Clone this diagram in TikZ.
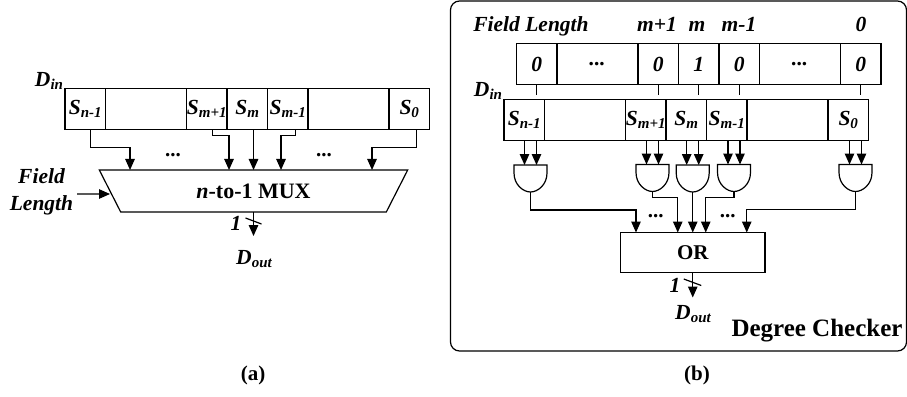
\documentclass[tikz,border=0pt]{standalone}
\usepackage{fontspec}
\setmainfont{Liberation Serif}
\usetikzlibrary{positioning}
\usetikzlibrary{arrows.meta}
\usetikzlibrary{shapes.geometric}
\newcommand{\subtxt}[2]{#1\raisebox{-0.3ex}{\fontsize{15}{15}\selectfont #2}}
\newcommand{\txtsize}[1]{\fontsize{#1}{#1}\selectfont}

\begin{document}
\begin{tikzpicture}[x=1pt, y=-1pt, line width=1.2pt, node distance=0pt,
                    every node/.style={font=\bfseries\txtsize{21}},
                    ital/.style={font=\bfseries\itshape\txtsize{21.5}},
                    cell/.style={draw, ital, minimum width=40.5pt, minimum height=40.5pt,
                                 inner sep=0pt, outer sep=0pt},
                    widecell/.style={cell, minimum width=81pt},
                    gatebox/.style={minimum width=33pt, minimum height=27pt,
                                    inner sep=0pt, outer sep=0pt},
                    wire/.style={-{Triangle[length=11pt, width=9.5pt]}}]

  \useasboundingbox (0,0) rectangle (907,396);

  % (a) the multiplexer
  \node[cell] (asn) at (85.25,109) {\subtxt{S}{n-1}};
  \node[widecell, right=of asn] (agapl) {};
  \node[cell, right=of agapl]   (asp)   {\subtxt{S}{m+1}};
  \node[cell, right=of asp]     (asm)   {\subtxt{S}{m}};
  \node[cell, right=of asm]     (asq)   {\subtxt{S}{m-1}};
  \node[widecell, right=of asq] (agapr) {};
  \node[cell, right=of agapr]   (aso)   {\subtxt{S}{0}};

  \node[ital] (adin) at (49,81) {\subtxt{D}{in}};

  \node[draw, trapezium, shape border rotate=180, trapezium stretches=true,
        trapezium angle=58, minimum width=309pt, minimum height=42pt,
        inner sep=0pt, outer sep=0pt, font=\bfseries\txtsize{22}] (mux) at (253.5,191)
        {\textit{n}-to-1 MUX};

  \node[ital, align=center] (afield) at (41.5,192) {Field\\[5pt]Length};
  \draw[wire] ([yshift=-2pt]afield.east) -- ([yshift=-3pt]mux.west);

  \draw[wire] ([xshift=5pt]asn.south) -- ++(0,18.5) -| ([xshift=-123.5pt]mux.north);
  \draw[wire] ([xshift=6pt]asp.south) -- ++(0,6) -| ([xshift=-24.5pt]mux.north);
  \draw[wire] (mux.north |- asm.south) -- (mux.north);
  \draw[wire] ([xshift=8pt]asq.south) -- ++(0,6) -| ([xshift=27.5pt]mux.north);
  \draw[wire] ([xshift=7pt]aso.south) -- ++(0,18.5) -| ([xshift=118.5pt]mux.north);

  \node (adotl) at (173,155) {...};
  \node (adotr) at (324,155) {...};

  \node[ital] (aout) at (254,259) {\subtxt{D}{out}};
  \node[ital] (aone) at (236,223) {1};
  \draw[wire] (mux.south) -- ++(0,24);
  \draw ([shift={(-8,6)}]mux.south) -- ([shift={(8,12)}]mux.south);

  \node (acap) at (253,375) {(a)};

  % (b) the degree checker
  \node[draw, rounded corners=9pt, minimum width=456pt, minimum height=350pt,
        inner sep=0pt, outer sep=0pt] (frame) at (678.5,176) {};

  \node[cell] (fz) at (536.75,64) {0};
  \node[widecell, right=of fz] (fdotl) {...};
  \node[cell, right=of fdotl]  (fp)    {0};
  \node[cell, right=of fp]     (fm)    {1};
  \node[cell, right=of fm]     (fq)    {0};
  \node[widecell, right=of fq] (fdotr) {...};
  \node[cell, right=of fdotr]  (fo)    {0};

  \node[ital, anchor=base] (flen)  at (531,32) {Field Length};
  \node[ital, anchor=base] (lblp)  at (657,32) {m+1};
  \node[ital, anchor=base] (lblm)  at (697,32) {m};
  \node[ital, anchor=base] (lblq)  at (739,32) {m-1};
  \node[ital, anchor=base] (lblo)  at (861,32) {0};

  \node[ital] (bdin) at (488,91) {\subtxt{D}{in}};

  \node[cell] (bsn) at (524.25,120) {\subtxt{S}{n-1}};
  \node[widecell, right=of bsn] (bgapl) {};
  \node[cell, right=of bgapl]   (bsp)   {\subtxt{S}{m+1}};
  \node[cell, right=of bsp]     (bsm)   {\subtxt{S}{m}};
  \node[cell, right=of bsm]     (bsq)   {\subtxt{S}{m-1}};
  \node[widecell, right=of bsq] (bgapr) {};
  \node[cell, right=of bgapr]   (bso)   {\subtxt{S}{0}};

  \foreach \top/\low in {fz/bsn, fp/bsp, fm/bsm, fq/bsq, fo/bso}
    \draw (\top.south) -- ([yshift=5pt]\low.north -| \top.south);

  \node[gatebox] (gn) at (530.5,178.5) {};
  \node[gatebox] (gp) at (652.5,178)   {};
  \node[gatebox] (gm) at (692.7,178.5) {};
  \node[gatebox] (gq) at (734,178)     {};
  \node[gatebox] (go) at (855.5,178)   {};

  \foreach \cl/\gt in {bsn/gn, bsp/gp, bsm/gm, bsq/gq, bso/go} {
    \draw (\gt.north west) -- (\gt.north east) -- ([yshift=-8pt]\gt.north east)
      .. controls ([yshift=7pt]\gt.south east) and ([xshift=7pt]\gt.south) .. (\gt.south)
      .. controls ([xshift=-7pt]\gt.south) and ([yshift=7pt]\gt.south west) .. ([yshift=-8pt]\gt.north west)
      -- cycle;
    \draw[wire] ([xshift=-6pt]\gt.north |- \cl.south) -- ([xshift=-6pt]\gt.north);
    \draw[wire] ([xshift=6pt]\gt.north |- \cl.south) -- ([xshift=6pt]\gt.north);
  }

  \node[draw, minimum width=144.5pt, minimum height=40pt, inner sep=0pt, outer sep=0pt]
    (orbox) at (692.75,252.5) {OR};

  \draw[wire] (gn.south) -- ++(0,18) -| ([xshift=-56.75pt]orbox.north);
  \draw[wire] (gp.south) -- ++(0,6)  -| ([xshift=-15pt]orbox.north);
  \draw[wire] (orbox.north |- gm.south) -- (orbox.north);
  \draw[wire] (gq.south) -- ++(0,6)  -| ([xshift=13pt]orbox.north);
  \draw[wire] (go.south) -- ++(0,18) -| ([xshift=54pt]orbox.north);

  \node (bdotl) at (655.7,216) {...};
  \node (bdotr) at (727.7,216) {...};

  \node[ital] (bout) at (693,314) {\subtxt{D}{out}};
  \node[ital] (bone) at (675,285) {1};
  \draw[wire] (orbox.south) -- ++(0,25);
  \draw ([shift={(-9,6.5)}]orbox.south) -- ([shift={(8.5,13)}]orbox.south);

  \node[font=\bfseries\txtsize{25}] (dchk) at (817,331) {Degree Checker};
  \node (bcap) at (697,375) {(b)};

\end{tikzpicture}
\end{document}
